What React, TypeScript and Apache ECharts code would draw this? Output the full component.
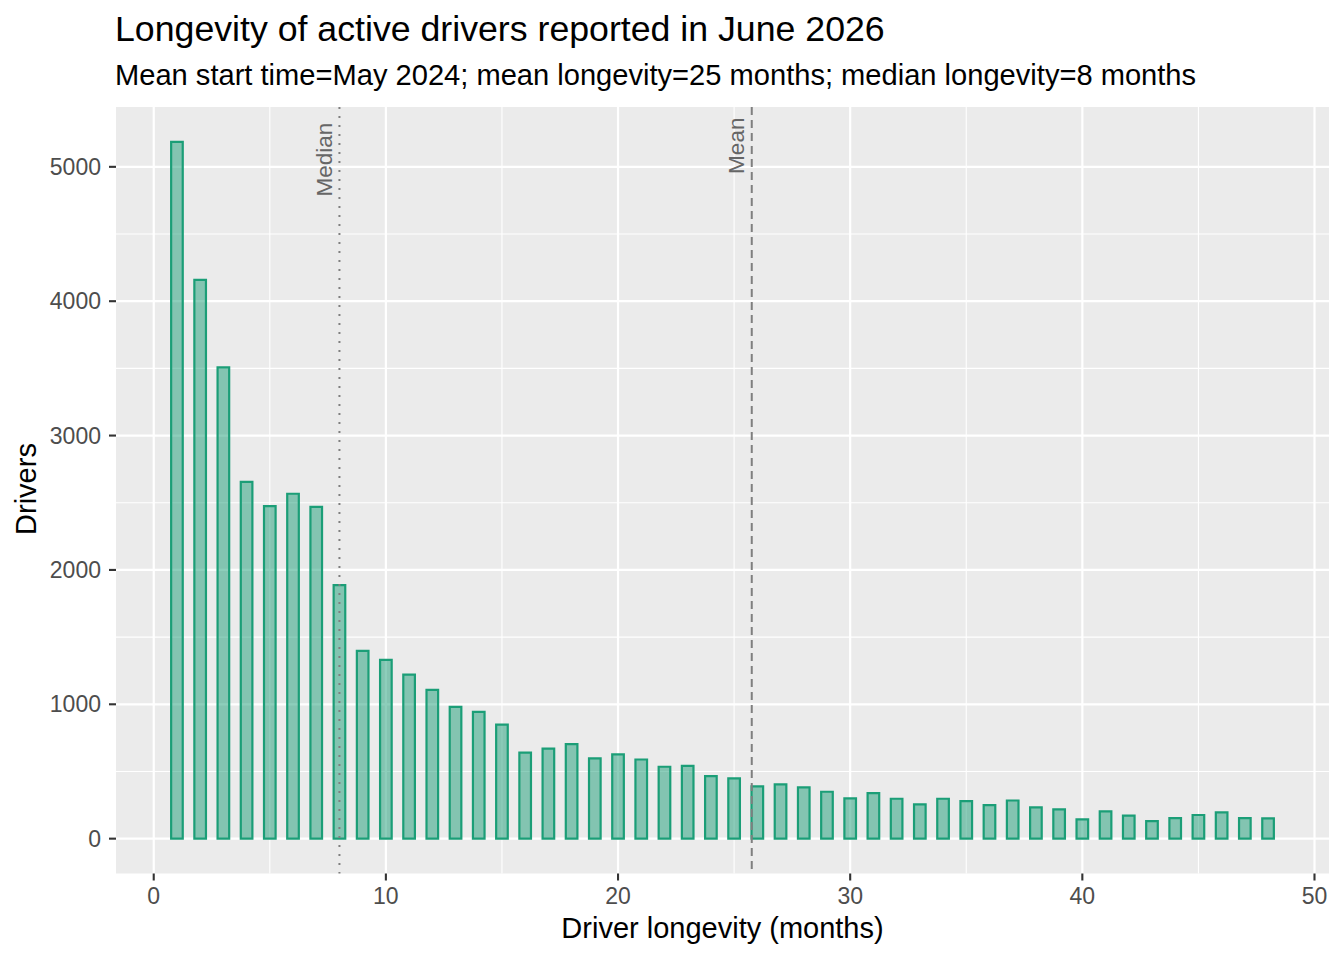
import React, { useEffect, useRef } from "react";
import * as echarts from "echarts";

// ---- data ----
const months = [
  1, 2, 3, 4, 5, 6, 7, 8, 9, 10, 11, 12, 13, 14, 15, 16, 17, 18, 19, 20, 21, 22, 23, 24,
  25, 26, 27, 28, 29, 30, 31, 32, 33, 34, 35, 36, 37, 38, 39, 40, 41, 42, 43, 44, 45, 46, 47, 48,
];
const drivers = [
  5186, 4158, 3507, 2656, 2475, 2567, 2470, 1887, 1397, 1330, 1221, 1107, 981, 943, 849, 641,
  670, 703, 597, 627, 589, 535, 542, 466, 448, 389, 404, 381, 349, 300, 339, 297, 255, 297,
  280, 250, 284, 233, 218, 144, 203, 171, 131, 153, 176, 195, 153, 151,
];
const xTicks = [0, 10, 20, 30, 40, 50];
const xMinor = [5, 15, 25, 35, 45];
const yTicks = [0, 1000, 2000, 3000, 4000, 5000];
const yMinor = [500, 1500, 2500, 3500, 4500];
const refX = [8, 25.76];
const refLabels = ["Median", "Mean"];
const refLabelY = [5053, 5157];
const refDash = [[2, 7], [8, 5]];

const titleText = "Longevity of active drivers reported in June 2026";
const subtitleText =
  "Mean start time=May 2024; mean longevity=25 months; median longevity=8 months";
const xTitle = "Driver longevity (months)";
const yTitle = "Drivers";

const FONT = '"Liberation Sans", Arial, Helvetica, sans-serif';
const BAR_HALF = 0.25;
const TICK_LEN = 7;

function gridSeries(values: number[], vertical: boolean, width: number) {
  return {
    type: "custom",
    silent: true,
    z: 1,
    data: values.map((v) => (vertical ? [v, 0] : [0, v])),
    renderItem: (params: any, api: any) => {
      const cs = params.coordSys;
      const v = api.value(vertical ? 0 : 1);
      if (vertical) {
        const p = api.coord([v, 0]);
        return {
          type: "line",
          shape: { x1: p[0], y1: cs.y, x2: p[0], y2: cs.y + cs.height },
          style: { stroke: "#ffffff", lineWidth: width },
        };
      }
      const p = api.coord([0, v]);
      return {
        type: "line",
        shape: { x1: cs.x, y1: p[1], x2: cs.x + cs.width, y2: p[1] },
        style: { stroke: "#ffffff", lineWidth: width },
      };
    },
  };
}

function tickSeries(values: number[], vertical: boolean) {
  return {
    type: "custom",
    silent: true,
    clip: false,
    z: 2,
    data: values.map((v) => (vertical ? [v, 0] : [0, v])),
    renderItem: (params: any, api: any) => {
      const cs = params.coordSys;
      const v = api.value(vertical ? 0 : 1);
      if (vertical) {
        const p = api.coord([v, 0]);
        const yb = cs.y + cs.height;
        return {
          type: "line",
          shape: { x1: p[0], y1: yb, x2: p[0], y2: yb + TICK_LEN },
          style: { stroke: "#333333", lineWidth: 2.1 },
        };
      }
      const p = api.coord([0, v]);
      return {
        type: "line",
        shape: { x1: cs.x - TICK_LEN, y1: p[1], x2: cs.x, y2: p[1] },
        style: { stroke: "#333333", lineWidth: 2.1 },
      };
    },
  };
}

export default function App() {
  const ref = useRef<HTMLDivElement>(null);
  useEffect(() => {
    if (!ref.current) return;
    const chart = echarts.init(ref.current, null, { renderer: "svg" });
    const option: any = {
      animation: false,
      backgroundColor: "#ffffff",
      textStyle: { fontFamily: FONT },
      grid: {
        left: 116,
        right: 15,
        top: 107,
        bottom: 86.5,
        show: true,
        backgroundColor: "#EBEBEB",
        borderWidth: 0,
        containLabel: false,
      },
      xAxis: {
        type: "value",
        min: -1.625,
        max: 50.625,
        axisLine: { show: false, onZero: false },
        splitLine: { show: false },
        axisTick: { show: false },
        axisLabel: {
          customValues: xTicks,
          formatter: (v: number) => String(v),
          color: "#4D4D4D",
          fontSize: 23,
          fontFamily: FONT,
          margin: 11,
        },
      },
      yAxis: {
        type: "value",
        min: -259.3,
        max: 5445.3,
        axisLine: { show: false, onZero: false },
        splitLine: { show: false },
        axisTick: { show: false },
        axisLabel: {
          customValues: yTicks,
          formatter: (v: number) => String(v),
          color: "#4D4D4D",
          fontSize: 23,
          fontFamily: FONT,
          margin: 15,
        },
      },
      graphic: [
        {
          type: "text",
          x: 115,
          y: 28.5,
          style: {
            text: titleText,
            font: `35.7px ${FONT}`,
            fill: "#000000",
            align: "left",
            verticalAlign: "middle",
          },
        },
        {
          type: "text",
          x: 115,
          y: 74.7,
          style: {
            text: subtitleText,
            font: `29.1px ${FONT}`,
            fill: "#000000",
            align: "left",
            verticalAlign: "middle",
          },
        },
        {
          type: "text",
          x: 722.5,
          y: 927.5,
          style: {
            text: xTitle,
            font: `29px ${FONT}`,
            fill: "#000000",
            align: "center",
            verticalAlign: "middle",
          },
        },
        {
          type: "text",
          x: 25.5,
          y: 489,
          rotation: Math.PI / 2,
          style: {
            text: yTitle,
            font: `29px ${FONT}`,
            fill: "#000000",
            align: "center",
            verticalAlign: "middle",
          },
        },
      ],
      series: [
        gridSeries(xMinor, true, 1.1),
        gridSeries(yMinor, false, 1.1),
        gridSeries(xTicks, true, 2.2),
        gridSeries(yTicks, false, 2.2),
        tickSeries(xTicks, true),
        tickSeries(yTicks, false),
        {
          type: "custom",
          name: "Drivers",
          z: 3,
          data: months.map((m, i) => [m, drivers[i]]),
          renderItem: (params: any, api: any) => {
            const m = api.value(0);
            const v = api.value(1);
            const p0 = api.coord([m - BAR_HALF, v]);
            const p1 = api.coord([m + BAR_HALF, 0]);
            return {
              type: "rect",
              shape: { x: p0[0], y: p0[1], width: p1[0] - p0[0], height: p1[1] - p0[1] },
              style: { fill: "rgba(27,158,119,0.5)", stroke: "#1B9E77", lineWidth: 2.2 },
            };
          },
        },
        {
          type: "custom",
          name: "refs",
          z: 4,
          silent: true,
          data: refX.map((x, i) => [x, refLabelY[i], i]),
          renderItem: (params: any, api: any) => {
            const cs = params.coordSys;
            const x = api.value(0);
            const ly = api.value(1);
            const idx = api.value(2);
            const p = api.coord([x, ly]);
            return {
              type: "group",
              children: [
                {
                  type: "line",
                  shape: { x1: p[0], y1: cs.y, x2: p[0], y2: cs.y + cs.height },
                  style: { stroke: "#7F7F7F", lineWidth: 2, lineDash: refDash[idx] },
                },
                {
                  type: "text",
                  x: p[0] - 15,
                  y: p[1],
                  rotation: Math.PI / 2,
                  style: {
                    text: refLabels[idx],
                    font: `22.5px ${FONT}`,
                    fill: "#666666",
                    align: "center",
                    verticalAlign: "middle",
                  },
                },
              ],
            };
          },
        },
      ],
    };
    chart.setOption(option);
    return () => chart.dispose();
  }, []);
  return (
    <div
      ref={ref}
      style={{ position: "fixed", left: 0, top: 0, width: 1344, height: 960 }}
    />
  );
}
